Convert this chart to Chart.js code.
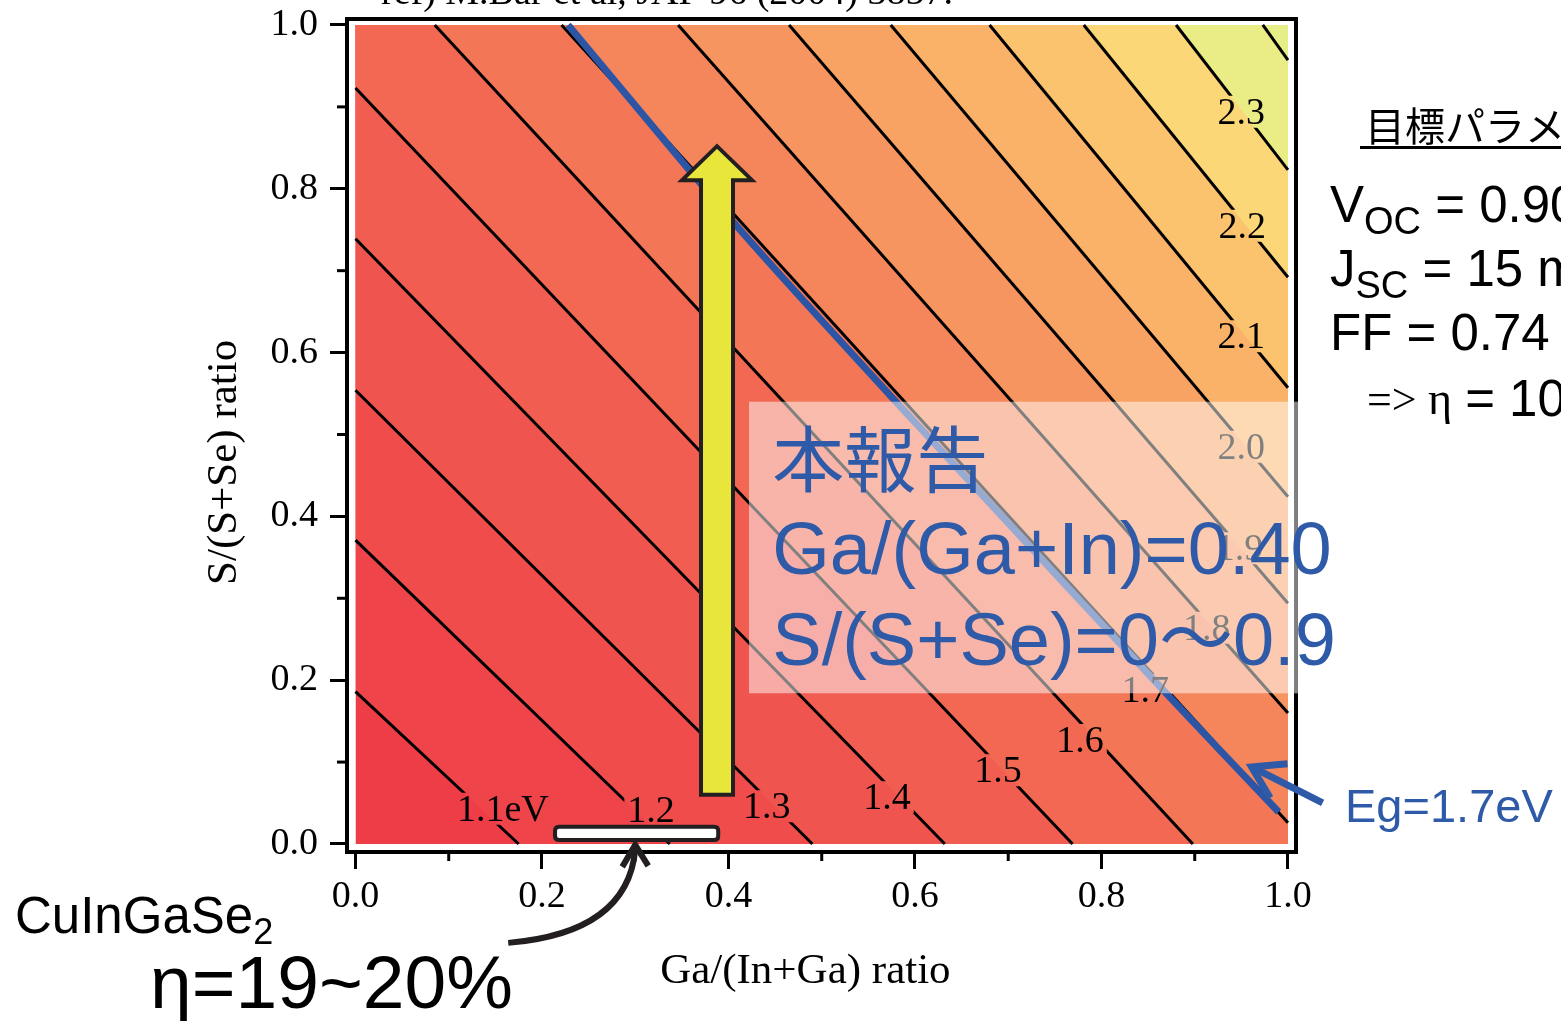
<!DOCTYPE html>
<html><head><meta charset="utf-8">
<script src="https://cdn.jsdelivr.net/npm/chart.js@4.4.1/dist/chart.umd.min.js"></script>
<style>html,body{margin:0;padding:0;background:#fff;overflow:hidden}canvas{display:block}</style>
</head><body>
<canvas id="c" width="1561" height="1021"></canvas>
<script>
// ---------------- data ----------------
const contourLevels = ['1.1','1.2','1.3','1.4','1.5','1.6','1.7','1.8','1.9','2.0','2.1','2.2','2.3','2.4'];
const contourStartX = [0, 0, 0, 0, 0, 0.085, 0.221, 0.346, 0.465, 0.574, 0.680, 0.781, 0.880, 0.973];
const contourStartY = [0.186, 0.371, 0.554, 0.739, 0.923, 1, 1, 1, 1, 1, 1, 1, 1, 1];
const contourEndX   = [0.175, 0.337, 0.490, 0.632, 0.769, 0.898, 1, 1, 1, 1, 1, 1, 1, 1];
const contourEndY   = [0, 0, 0, 0, 0, 0, 0.026, 0.160, 0.294, 0.424, 0.557, 0.692, 0.823, 0.957];
const contourLabelText = ['1.1eV','1.2','1.3','1.4','1.5','1.6','1.7','1.8','1.9','2.0','2.1','2.2','2.3',''];
const contourLabelX = [0.158, 0.317, 0.441, 0.570, 0.689, 0.777, 0.847, 0.913, 0.948, 0.950, 0.950, 0.951, 0.950, null];
const contourLabelY = [0.043, 0.042, 0.046, 0.057, 0.090, 0.127, 0.188, 0.264, 0.361, 0.485, 0.620, 0.755, 0.894, null];
const bandColors = ['#EE3D46','#EF444A','#F04C4C','#F0544E','#F15D50','#F26853','#F37657',
                    '#F5865C','#F69560','#F8A364','#FAB269','#FCC36F','#FCD777','#EAEC85','#E6EE88'];
const egLineX = [0.228, 0.410, 0.578, 0.871, 0.990];
const egLineY = [1.000, 0.753, 0.542, 0.182, 0.039];
const xTickValues = [0, 0.2, 0.4, 0.6, 0.8, 1.0];
const xTickLabels = ['0.0','0.2','0.4','0.6','0.8','1.0'];
const yTickValues = [0, 0.2, 0.4, 0.6, 0.8, 1.0];
const yTickLabels = ['0.0','0.2','0.4','0.6','0.8','1.0'];
const minorTickValues = [0.1, 0.3, 0.5, 0.7, 0.9];
// annotations (data coordinates)
const reportGa = 0.3877;            // yellow arrow position
const reportSRange = [0.060, 0.852]; // yellow arrow from / to
const cigsGaRange = [0.214, 0.389];  // white bar
const egArrowTip = [0.961, 0.094];

// ---------------- styles ----------------
const BLUE = '#2E5AA8';
const SERIF = '"Liberation Serif", "Times New Roman", serif';
const SANS = '"Liberation Sans", Arial, "Noto Sans CJK JP", sans-serif';
const CJK = '"Noto Sans CJK JP", "Liberation Sans", sans-serif';
const LABEL_FONT = '38px ' + SERIF;

const datasets = [];
datasets.push({kind:'band', label:'< 1.1', data:[{x:0,y:0},{x:1,y:0}], backgroundColor:bandColors[0],
  borderColor:'rgba(0,0,0,0)', borderWidth:0, fill:{value:1}, pointRadius:0, showLine:true, order:1000});
contourLevels.forEach((lv, i) => {
  const pts = [];
  if (contourStartX[i] > 0) pts.push({x:0, y:1});
  pts.push({x:contourStartX[i], y:contourStartY[i]});
  pts.push({x:contourEndX[i], y:contourEndY[i]});
  if (contourEndX[i] < 1) pts.push({x:1, y:0});
  datasets.push({kind:'band', label:'>' + lv, data:pts, backgroundColor:bandColors[i+1],
    borderColor:'rgba(0,0,0,0)', borderWidth:0, fill:{value:1}, pointRadius:0, showLine:true, order:999 - i});
});
contourLevels.forEach((lv, i) => {
  datasets.push({kind:'contour', label:lv + ' eV',
    data:[{x:contourStartX[i], y:contourStartY[i]}, {x:contourEndX[i], y:contourEndY[i]}],
    borderColor:'#000', borderWidth:3, fill:false, pointRadius:0, showLine:true, order:10});
});
datasets.push({kind:'eg', label:'Eg=1.7eV', data:egLineX.map((x, i) => ({x, y:egLineY[i]})),
  borderColor:'#2C55A5', borderWidth:7, fill:false, pointRadius:0, showLine:true, tension:0.2, order:0});

function rrect(ctx, x, y, w, h, r) {
  ctx.beginPath();
  ctx.moveTo(x + r, y); ctx.lineTo(x + w - r, y); ctx.quadraticCurveTo(x + w, y, x + w, y + r);
  ctx.lineTo(x + w, y + h - r); ctx.quadraticCurveTo(x + w, y + h, x + w - r, y + h);
  ctx.lineTo(x + r, y + h); ctx.quadraticCurveTo(x, y + h, x, y + h - r);
  ctx.lineTo(x, y + r); ctx.quadraticCurveTo(x, y, x + r, y); ctx.closePath();
}
function labelRects(chart) {
  const ctx = chart.ctx, xs = chart.scales.x, ys = chart.scales.y;
  ctx.save(); ctx.font = LABEL_FONT;
  const out = [];
  contourLabelText.forEach((t, i) => {
    if (!t) return;
    const w = ctx.measureText(t).width + 6, h = 32;
    out.push([xs.getPixelForValue(contourLabelX[i]) - w / 2, ys.getPixelForValue(contourLabelY[i]) - h / 2, w, h]);
  });
  ctx.restore();
  return out;
}
function subText(ctx, x, y, main, sub, rest, size, subSize, drop) {
  ctx.font = size + 'px ' + SANS; ctx.fillText(main, x, y);
  let w = ctx.measureText(main).width;
  ctx.font = subSize + 'px ' + SANS; ctx.fillText(sub, x + w, y + drop);
  w += ctx.measureText(sub).width;
  ctx.font = size + 'px ' + SANS; ctx.fillText(rest, x + w, y);
}

const deco = {
  id: 'deco',
  beforeDatasetDraw(chart, args) {
    const ds = chart.data.datasets[args.index];
    if (ds.kind !== 'contour') return;
    const ctx = chart.ctx;
    ctx.save();
    ctx.beginPath();
    ctx.rect(0, 0, chart.width, chart.height);
    labelRects(chart).forEach(r => ctx.rect(r[0], r[1], r[2], r[3]));
    ctx.clip('evenodd');
  },
  afterDatasetDraw(chart, args) {
    const ds = chart.data.datasets[args.index];
    if (ds.kind === 'contour') chart.ctx.restore();
  },
  afterDatasetsDraw(chart) {
    const ctx = chart.ctx, a = chart.chartArea, xs = chart.scales.x, ys = chart.scales.y;
    const px = v => xs.getPixelForValue(v), py = v => ys.getPixelForValue(v);
    ctx.save();
    // contour labels
    ctx.font = LABEL_FONT; ctx.fillStyle = '#000'; ctx.textAlign = 'center'; ctx.textBaseline = 'middle';
    contourLabelText.forEach((t, i) => { if (t) ctx.fillText(t, px(contourLabelX[i]), py(contourLabelY[i]) + 2); });
    // top and right frame
    ctx.strokeStyle = '#000'; ctx.lineWidth = 4; ctx.lineCap = 'square';
    ctx.beginPath(); ctx.moveTo(a.left, a.top); ctx.lineTo(a.right, a.top); ctx.lineTo(a.right, a.bottom); ctx.stroke();
    // minor ticks
    ctx.lineWidth = 3; ctx.lineCap = 'butt';
    minorTickValues.forEach(v => {
      ctx.beginPath(); ctx.moveTo(px(v), a.bottom); ctx.lineTo(px(v), a.bottom + 9); ctx.stroke();
      ctx.beginPath(); ctx.moveTo(a.left, py(v)); ctx.lineTo(a.left - 10, py(v)); ctx.stroke();
    });
    // CIGS white bar
    const bx0 = px(cigsGaRange[0]), bx1 = px(cigsGaRange[1]), by0 = py(0.021), by1 = py(0.005);
    rrect(ctx, bx0, by0, bx1 - bx0, by1 - by0, 4);
    ctx.fillStyle = '#fff'; ctx.fill(); ctx.strokeStyle = '#231F20'; ctx.lineWidth = 4; ctx.stroke();
    // yellow arrow
    const xc = px(reportGa), yb = py(reportSRange[0]), yt = py(reportSRange[1]), yh = yt + 34;
    ctx.beginPath();
    ctx.moveTo(xc - 16, yb); ctx.lineTo(xc - 16, yh); ctx.lineTo(xc - 35, yh); ctx.lineTo(xc, yt);
    ctx.lineTo(xc + 35, yh); ctx.lineTo(xc + 16, yh); ctx.lineTo(xc + 16, yb); ctx.closePath();
    ctx.fillStyle = '#E8E63B'; ctx.fill(); ctx.lineJoin = 'miter'; ctx.lineWidth = 4; ctx.strokeStyle = '#231F20'; ctx.stroke();
    // translucent box
    const ox0 = px(0.422), ox1 = px(1.0107), oy0 = py(0.540), oy1 = py(0.184);
    ctx.fillStyle = 'rgba(255,255,255,0.5)'; ctx.fillRect(ox0, oy0, ox1 - ox0, oy1 - oy0);
    ctx.fillStyle = BLUE; ctx.textAlign = 'left'; ctx.textBaseline = 'alphabetic';
    const tx = px(0.447);
    ctx.font = '72px ' + CJK; ctx.fillText('本報告', tx, py(0.437));
    ctx.font = '74px ' + SANS; ctx.fillText('Ga/(Ga+In)=0.40', tx, py(0.330));
    ctx.fillText('S/(S+Se)=0〜0.9', tx, py(0.219));
    // Eg arrow + text
    const tipX = px(egArrowTip[0]), tipY = py(egArrowTip[1]);
    const tailX = tipX + 71, tailY = tipY + 36;
    ctx.strokeStyle = BLUE; ctx.lineWidth = 7; ctx.lineCap = 'butt';
    ctx.beginPath(); ctx.moveTo(tailX, tailY); ctx.lineTo(tipX + 3, tipY + 1.5); ctx.stroke();
    const ang = Math.atan2(tailY - tipY, tailX - tipX), L = 36, sp = 0.56;
    ctx.beginPath();
    ctx.moveTo(tipX + L * Math.cos(ang - sp), tipY + L * Math.sin(ang - sp));
    ctx.lineTo(tipX, tipY);
    ctx.lineTo(tipX + L * Math.cos(ang + sp), tipY + L * Math.sin(ang + sp));
    ctx.stroke();
    ctx.fillStyle = BLUE; ctx.font = '47px ' + SANS; ctx.fillText('Eg=1.7eV', a.right + 49, 822);
    // curved arrow to CIGS bar
    const cx = px(0.30), cy = by1 + 5;
    ctx.strokeStyle = '#231F20'; ctx.lineWidth = 6; ctx.lineCap = 'butt';
    ctx.beginPath(); ctx.moveTo(cx - 127, cy + 98); ctx.quadraticCurveTo(cx - 8, cy + 88, cx, cy + 5); ctx.stroke();
    ctx.lineJoin = 'miter';
    ctx.beginPath(); ctx.moveTo(cx - 13, cy + 22); ctx.lineTo(cx, cy); ctx.lineTo(cx + 13, cy + 21); ctx.stroke();
    // bottom-left texts
    ctx.fillStyle = '#000';
    subText(ctx, 15, 933, 'CuInGaSe', '2', '', 51, 36, 11);
    ctx.font = '75px ' + SANS; ctx.fillText('η=19~20%', 150, 1008);
    // right panel
    ctx.font = '40px ' + CJK; ctx.fillText('目標パラメータ', a.right + 69, 141);
    ctx.fillRect(a.right + 64, 146, 400, 3);
    subText(ctx, a.right + 34, 222, 'V', 'OC', ' = 0.90 V', 51, 38, 12);
    subText(ctx, a.right + 34, 286, 'J', 'SC', ' = 15 mA/cm²', 51, 38, 12);
    ctx.font = '51px ' + SANS; ctx.fillText('FF = 0.74', a.right + 34, 350);
    ctx.font = '44px ' + SERIF; ctx.fillText('=>', a.right + 71, 414);
    ctx.font = '46px ' + SERIF; ctx.fillText('η', a.right + 132, 414);
    ctx.font = '51px ' + SANS; ctx.fillText(' = 10%', a.right + 155, 416);
    // reference line at the very top (cut off)
    ctx.font = '38px ' + SERIF; ctx.fillText('ref) M.Bär et al, JAP 96 (2004) 3857.', 381, 4);
    ctx.restore();
  }
};

const tickFont = {family: SERIF, size: 38};
new Chart(document.getElementById('c'), {
  type: 'scatter',
  data: {datasets},
  options: {
    responsive: false, animation: false, devicePixelRatio: 1, events: [],
    layout: {padding: {left: 190, right: 265, top: 19, bottom: 23}},
    plugins: {legend: {display: false}, tooltip: {enabled: false}, filler: {drawTime: 'beforeDatasetsDraw'}},
    scales: {
      x: {
        type: 'linear', min: -0.0091, max: 1.0086, bounds: 'data',
        afterBuildTicks: s => { s.ticks = xTickValues.map(v => ({value: v})); },
        afterFit: s => { s.height = 146; s.paddingLeft = 0; s.paddingRight = 0; s.paddingTop = 0; s.paddingBottom = 0; },
        ticks: {callback: (v, i) => xTickLabels[i], font: tickFont, color: '#000', padding: 5, maxRotation: 0, autoSkip: false},
        grid: {drawOnChartArea: false, drawTicks: true, tickLength: 17, tickWidth: 3, tickColor: '#000', color: '#000'},
        border: {display: true, color: '#000', width: 4},
        title: {display: true, text: 'Ga/(In+Ga) ratio   ', font: {family: SERIF, size: 43}, color: '#000', padding: {top: 0, bottom: 0}}
      },
      y: {
        type: 'linear', min: -0.0098, max: 1.0073, bounds: 'data',
        afterBuildTicks: s => { s.ticks = yTickValues.map(v => ({value: v})); },
        afterFit: s => { s.width = 157; s.paddingLeft = 0; s.paddingRight = 0; s.paddingTop = 0; s.paddingBottom = 0; },
        ticks: {callback: (v, i) => yTickLabels[i], font: {family: SERIF, size: 38, lineHeight: 0.9}, color: '#000', padding: 12, autoSkip: false},
        grid: {drawOnChartArea: false, drawTicks: true, tickLength: 17, tickWidth: 3, tickColor: '#000', color: '#000'},
        border: {display: true, color: '#000', width: 4},
        title: {display: true, text: 'S/(S+Se) ratio     ', font: {family: SERIF, size: 43}, color: '#000', padding: {top: 9, bottom: 0}}
      }
    }
  },
  plugins: [deco]
});
</script>
</body></html>
